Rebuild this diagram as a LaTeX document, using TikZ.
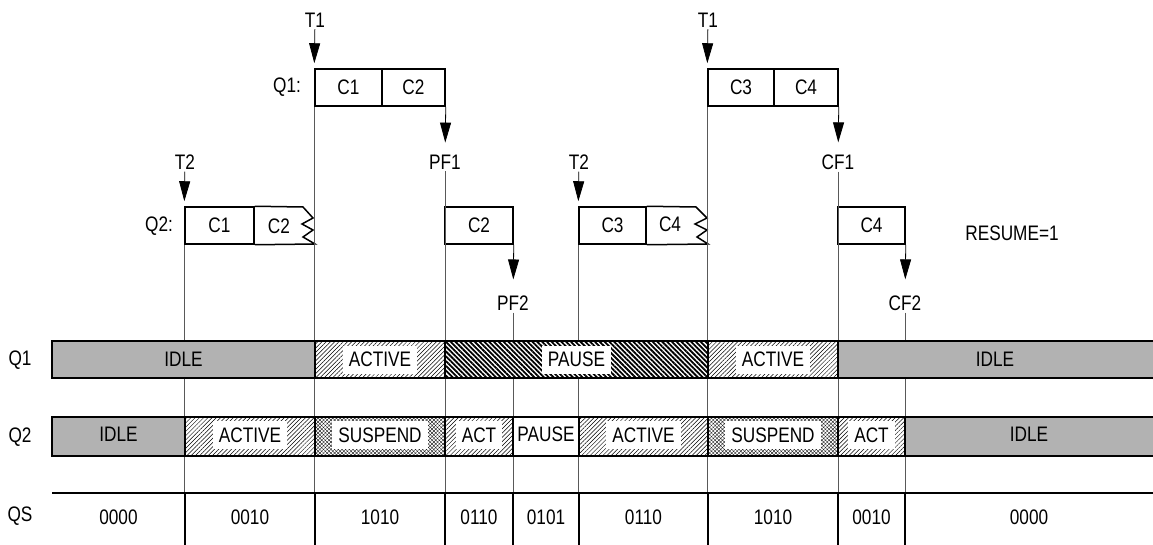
\documentclass[tikz,border=0pt]{standalone}
\usepackage{fontspec}
\setmainfont[FakeStretch=0.82]{Liberation Sans}
\usetikzlibrary{arrows.meta,patterns.meta}

\begin{document}
\begin{tikzpicture}[x=1pt, y=-1pt,
    every node/.style={font=\fontsize{21}{25}\selectfont, inner sep=2pt},
    cell/.style={draw, line width=1.5pt, minimum height=37pt, inner sep=0pt},
    flag/.style={-{Triangle[length=20pt, width=11pt]}, line width=0.8pt, shorten >=5pt},
    guide/.style={draw=black!65, line width=0.8pt},
    band/.style={draw, line width=1.6pt},
    idle/.style={band, fill=gray!60},
    active/.style={band, preaction={fill=white}, pattern={Lines[angle=45, distance=3pt, line width=0.5pt]}},
    pause/.style={band, preaction={fill=white}, pattern={Lines[angle=-45, distance=3.4pt, line width=1.8pt]}},
    suspend/.style={band, preaction={fill=white}, preaction={pattern={Lines[angle=45, distance=2.6pt, line width=0.35pt]}},
      pattern={Lines[angle=-45, distance=2.6pt, line width=0.35pt]}},
    tag/.style={fill=white, inner xsep=6pt, inner ysep=0pt, minimum height=28pt}]
    \useasboundingbox (0,0) rectangle (1153,545);

    % Q1 cells
    \node[cell, minimum width=67pt] (q1-c1) at (348.5,87.5) {C1};
    \node[cell, minimum width=63pt] (q1-c2) at (413.5,87.5) {C2};
    \node[cell, minimum width=66pt] (q1-c3) at (741,87.5) {C3};
    \node[cell, minimum width=64pt] (q1-c4) at (806,87.5) {C4};
    \node (q1-name) at (287,87) {Q1:};

    % Q2 cells
    \node[cell, minimum width=69pt] (q2-c1) at (219.5,225.5) {C1};
    \node (q2-c2) at (279,226) {C2};
    \draw[line width=1.5pt] (q2-c1.north east) -- (303,207) -- (313,218) -- (302,224) -- (313,230) -- (303,237) -- (315,244) -- (q2-c1.south east);
    \node[cell, minimum width=68pt] (q2-c2b) at (479,225.5) {C2};
    \node[cell, minimum width=67pt] (q2-c3) at (612.5,225.5) {C3};
    \node (q2-c4) at (670,224) {C4};
    \draw[line width=1.5pt] (q2-c3.north east) -- (696,207) -- (707,218) -- (695,224) -- (707,230) -- (697,237) -- (708,244) -- (q2-c3.south east);
    \node[cell, minimum width=67pt] (q2-c4b) at (871.5,225.5) {C4};
    \node (q2-name) at (159,226) {Q2:};

    % Triggers and flags
    \node (t1-a) at (315,20) {T1};
    \node (t1-b) at (708,20) {T1};
    \node (t2-a) at (185,162) {T2};
    \node (t2-b) at (579,162) {T2};
    \node (pf-1) at (445,162) {PF1};
    \node (cf-1) at (838,162) {CF1};
    \node (pf-2) at (513,303) {PF2};
    \node (cf-2) at (905,303) {CF2};
    \node (resume) at (1012,233) {RESUME=1};

    \draw[flag] (t1-a) -- (q1-c1.north west);
    \draw[flag] (t1-b) -- (q1-c3.north west);
    \draw[flag] (t2-a) -- (q2-c1.north west);
    \draw[flag] (t2-b) -- (q2-c3.north west);
    \draw[flag, shorten >=10pt] (q1-c2.south east) -- (pf-1);
    \draw[flag, shorten >=10pt] (q1-c4.south east) -- (cf-1);
    \draw[flag, shorten >=14pt] (q2-c2b.south east) -- (pf-2);
    \draw[flag, shorten >=14pt] (q2-c4b.south east) -- (cf-2);

    % Guide lines down to the QS row
    \coordinate (qs-l) at (52,493);
    \coordinate (qs-r) at (1160,493);
    \draw[guide] (q2-c1.south west) -- (q2-c1.south west |- qs-l);
    \draw[guide] (q1-c1.south west) -- (q1-c1.south west |- qs-l);
    \draw[guide] (pf-1) -- (pf-1 |- qs-l);
    \draw[guide] (pf-2) -- (pf-2 |- qs-l);
    \draw[guide] (q2-c3.south west) -- (q2-c3.south west |- qs-l);
    \draw[guide] (q1-c3.south west) -- (q1-c3.south west |- qs-l);
    \draw[guide] (cf-1) -- (cf-1 |- qs-l);
    \draw[guide] (cf-2) -- (cf-2 |- qs-l);

    % Q1 state band
    \foreach \xa/\xb in {52/315, 838/1160} \draw[idle] (\xa,341) rectangle (\xb,378);
    \foreach \xa/\xb in {315/445, 708/838} \draw[active] (\xa,341) rectangle (\xb,378);
    \draw[pause] (445,341) rectangle (708,378);
    \node (q1-s1) at (183.5,359.5) {IDLE};
    \node[tag] (q1-s2) at (380,359.5) {ACTIVE};
    \node[tag] (q1-s3) at (576.5,359.5) {PAUSE};
    \node[tag] (q1-s4) at (773,359.5) {ACTIVE};
    \node (q1-s5) at (995,359.5) {IDLE};

    % Q2 state band
    \foreach \xa/\xb in {52/185, 905/1160} \draw[idle] (\xa,417) rectangle (\xb,456);
    \foreach \xa/\xb in {185/315, 445/513, 579/708, 838/905} \draw[active] (\xa,417) rectangle (\xb,456);
    \foreach \xa/\xb in {315/445, 708/838} \draw[suspend] (\xa,417) rectangle (\xb,456);
    \draw[band] (513,417) rectangle (579,456);
    \node (q2-s1) at (118.5,434) {IDLE};
    \node[tag] (q2-s2) at (250,435) {ACTIVE};
    \node[tag] (q2-s3) at (380,435) {SUSPEND};
    \node[tag] (q2-s4) at (479,435) {ACT};
    \node (q2-s5) at (546,434) {PAUSE};
    \node[tag] (q2-s6) at (643.5,435) {ACTIVE};
    \node[tag] (q2-s7) at (773,435) {SUSPEND};
    \node[tag] (q2-s8) at (871.5,435) {ACT};
    \node (q2-s9) at (1029,434) {IDLE};

    % QS row
    \draw[line width=1.6pt] (qs-l) -- (qs-r);
    \foreach \x in {185,315,445,513,579,708,838,905} {
      \draw[line width=1.6pt] (\x,493) -- (\x,548);
    }
    \foreach \x/\v [count=\i] in {118.5/0000, 250/0010, 380/1010, 479/0110, 546/0101, 643.5/0110, 773/1010, 871.5/0010, 1029/0000} {
      \node (qs-\i) at (\x,517) {\v};
    }

    \node (row-q1) at (20,360) {Q1};
    \node (row-q2) at (20,437) {Q2};
    \node (row-qs) at (20,516) {QS};
  \end{tikzpicture}
\end{document}
